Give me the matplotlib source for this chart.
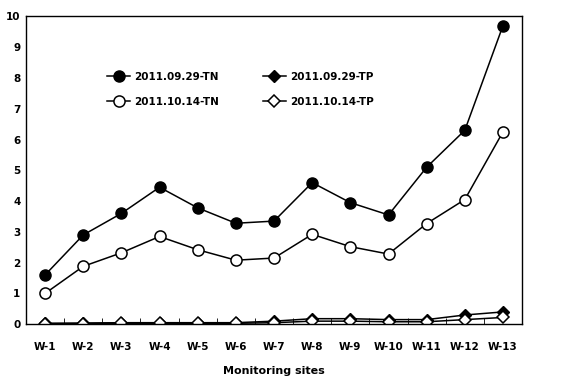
import numpy as np
import matplotlib.pyplot as plt

sites = ['W-1', 'W-2', 'W-3', 'W-4', 'W-5', 'W-6', 'W-7', 'W-8', 'W-9', 'W-10', 'W-11', 'W-12', 'W-13']
tn_0929 = [1.6, 2.9, 3.6, 4.45, 3.78, 3.28, 3.35, 4.6, 3.95, 3.55, 5.1, 6.3, 9.7]
tn_1014 = [1.0, 1.88, 2.32, 2.85, 2.42, 2.08, 2.15, 2.92, 2.52, 2.28, 3.27, 4.05, 6.25]
tp_0929 = [0.03, 0.04, 0.05, 0.05, 0.05, 0.05, 0.1, 0.18, 0.18, 0.15, 0.15, 0.3, 0.4]
tp_1014 = [0.02, 0.02, 0.03, 0.03, 0.03, 0.03, 0.05, 0.1, 0.1, 0.08, 0.08, 0.15, 0.22]

plt.rcParams['font.family'] = 'DejaVu Sans'
fig = plt.figure(figsize=(5.65, 3.81), dpi=100)
ax = fig.add_axes([0.046, 0.149, 0.878, 0.808])

x = np.arange(len(sites))
lw = 1.1
# order chosen so the 2-column legend reads row-wise like the original
ax.plot(x, tn_0929, '-o', color='black', mfc='black', mec='black', ms=8, lw=lw, label='2011.09.29-TN')
ax.plot(x, tn_1014, '-o', color='black', mfc='white', mec='black', ms=8, mew=1.1, lw=lw, label='2011.10.14-TN')
ax.plot(x, tp_0929, '-D', color='black', mfc='black', mec='black', ms=6, lw=lw, label='2011.09.29-TP')
ax.plot(x, tp_1014, '-D', color='black', mfc='white', mec='black', ms=6, mew=1.1, lw=lw, label='2011.10.14-TP')

ax.set_xlim(-0.5, len(sites) - 0.5)
ax.set_ylim(0, 10)
ax.set_yticks(range(0, 11))
ax.set_xticks(x)
ax.set_xticklabels(sites)
ax.set_xticks(np.arange(-0.5, len(sites)), minor=True)
ax.tick_params(axis='x', which='major', length=0, pad=13, labelsize=7.5)
ax.tick_params(axis='x', which='minor', length=4, direction='in')
ax.tick_params(axis='y', length=0, pad=4, labelsize=7.5)
for t in ax.get_xticklabels() + ax.get_yticklabels():
    t.set_fontweight('bold')
for s in ax.spines.values():
    s.set_linewidth(1.0)
ax.set_xlabel('Monitoring sites', fontsize=8, fontweight='bold', labelpad=10)

leg = ax.legend(loc='upper left', bbox_to_anchor=(0.145, 0.85), ncol=2, frameon=False,
                handlelength=2.2, columnspacing=4.2, handletextpad=0.4,
                labelspacing=1.45, prop={'weight': 'bold', 'size': 7.5})

fig.savefig('out.png', dpi=100)
